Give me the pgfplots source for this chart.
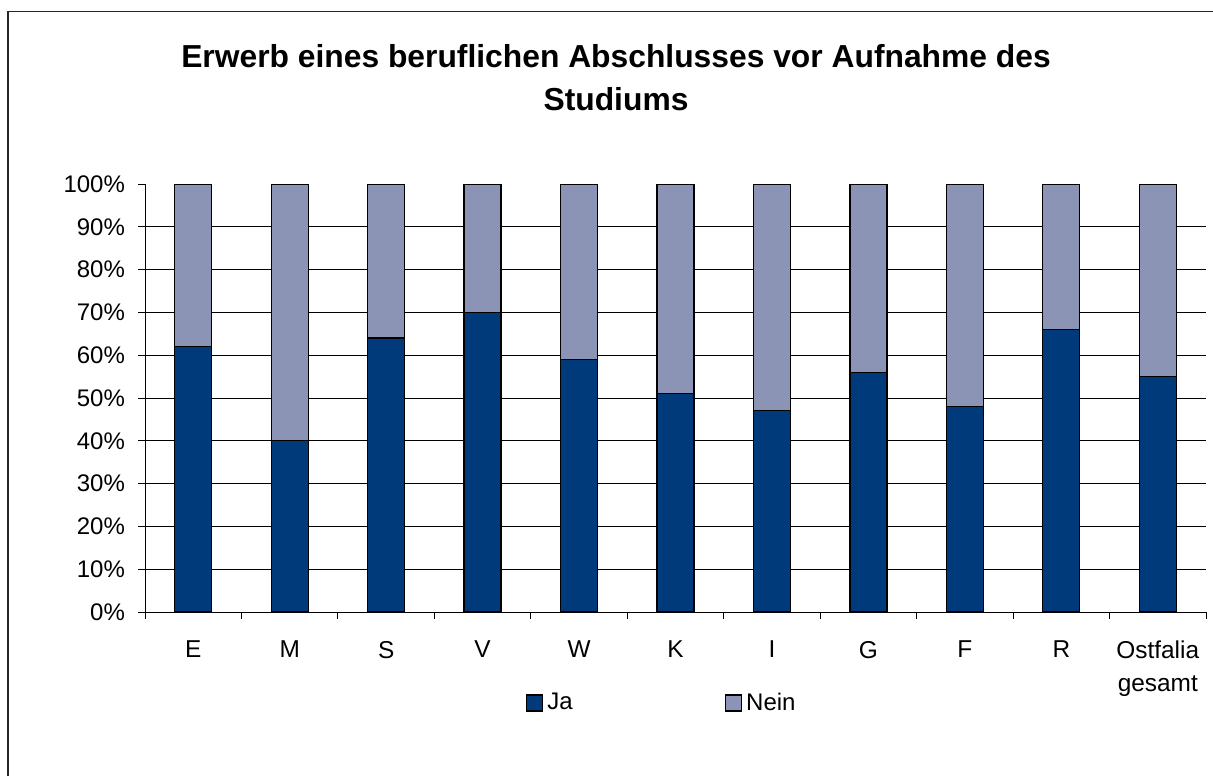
\documentclass[border=0pt]{standalone}
\usepackage{pgfplots}
\pgfplotsset{compat=1.18}
\usepackage{fontspec}
\setmainfont{Liberation Sans}

\definecolor{ja}{RGB}{0,58,122}
\definecolor{nein}{RGB}{139,148,181}

\begin{document}
\begin{tikzpicture}
  % page = 1213 x 776 px at 0.5pt per px, origin top left
  \useasboundingbox (0,0) rectangle (606.5pt,-388pt);
  \draw[line width=0.6pt, black!85] (4pt,-388pt) -- (4pt,-5.85pt) -- (606.5pt,-5.85pt);

  \node[font=\fontsize{15.9}{18}\selectfont\bfseries, anchor=base] at (308pt,-33.5pt)
    {Erwerb eines beruflichen Abschlusses vor Aufnahme des};
  \node[font=\fontsize{15.9}{18}\selectfont\bfseries, anchor=base] at (308pt,-55pt)
    {Studiums};

  \begin{axis}[
    at={(72.5pt,-306pt)}, anchor=south west,
    scale only axis,
    width=530.5pt, height=214pt,
    ybar stacked, bar width=18.5pt,
    xmin=-0.5, xmax=10.5,
    ymin=0, ymax=100,
    axis x line*=bottom, axis y line*=left,
    axis line style={line width=0.5pt, black},
    tick align=outside,
    tick style={black, line width=0.5pt},
    major tick length=3.5pt, minor tick length=3.5pt,
    xtick={0,...,10},
    xticklabels={E,M,S,V,W,K,I,G,F,R,{Ostfalia\\gesamt}},
    every major x tick/.append style={draw=none},
    minor xtick={-0.5,0.5,...,10.5},
    xticklabel style={align=center, font=\fontsize{12.2}{16.5}\selectfont, yshift=-7.5pt},
    ytick={0,10,...,100},
    yticklabels={0\%,10\%,20\%,30\%,40\%,50\%,60\%,70\%,80\%,90\%,100\%},
    yticklabel style={font=\fontsize{12}{14}\selectfont, xshift=-3pt},
    extra y ticks={10,20,...,90},
    extra y tick labels={},
    extra y tick style={grid=major, major tick length=0pt},
    major grid style={black, line width=0.5pt},
    legend columns=2,
    legend style={at={(0.488,-0.2126)}, anchor=center, draw=none, fill=none,
      font=\fontsize{12}{14}\selectfont,
      /tikz/every even column/.append style={column sep=74pt}},
    legend image code/.code={\draw[#1, line width=0.7pt] (0pt,-4pt) rectangle (8pt,4pt);},
  ]
    \addplot[fill=ja, draw=black, line width=0.6pt] coordinates {
      (0,62) (1,40) (2,64) (3,70) (4,59) (5,51) (6,47) (7,56) (8,48) (9,66) (10,55)
    };
    \addlegendentry{Ja}
    \addplot[fill=nein, draw=black, line width=0.6pt] coordinates {
      (0,38) (1,60) (2,36) (3,30) (4,41) (5,49) (6,53) (7,44) (8,52) (9,34) (10,45)
    };
    \addlegendentry{Nein}
  \end{axis}
\end{tikzpicture}
\end{document}
